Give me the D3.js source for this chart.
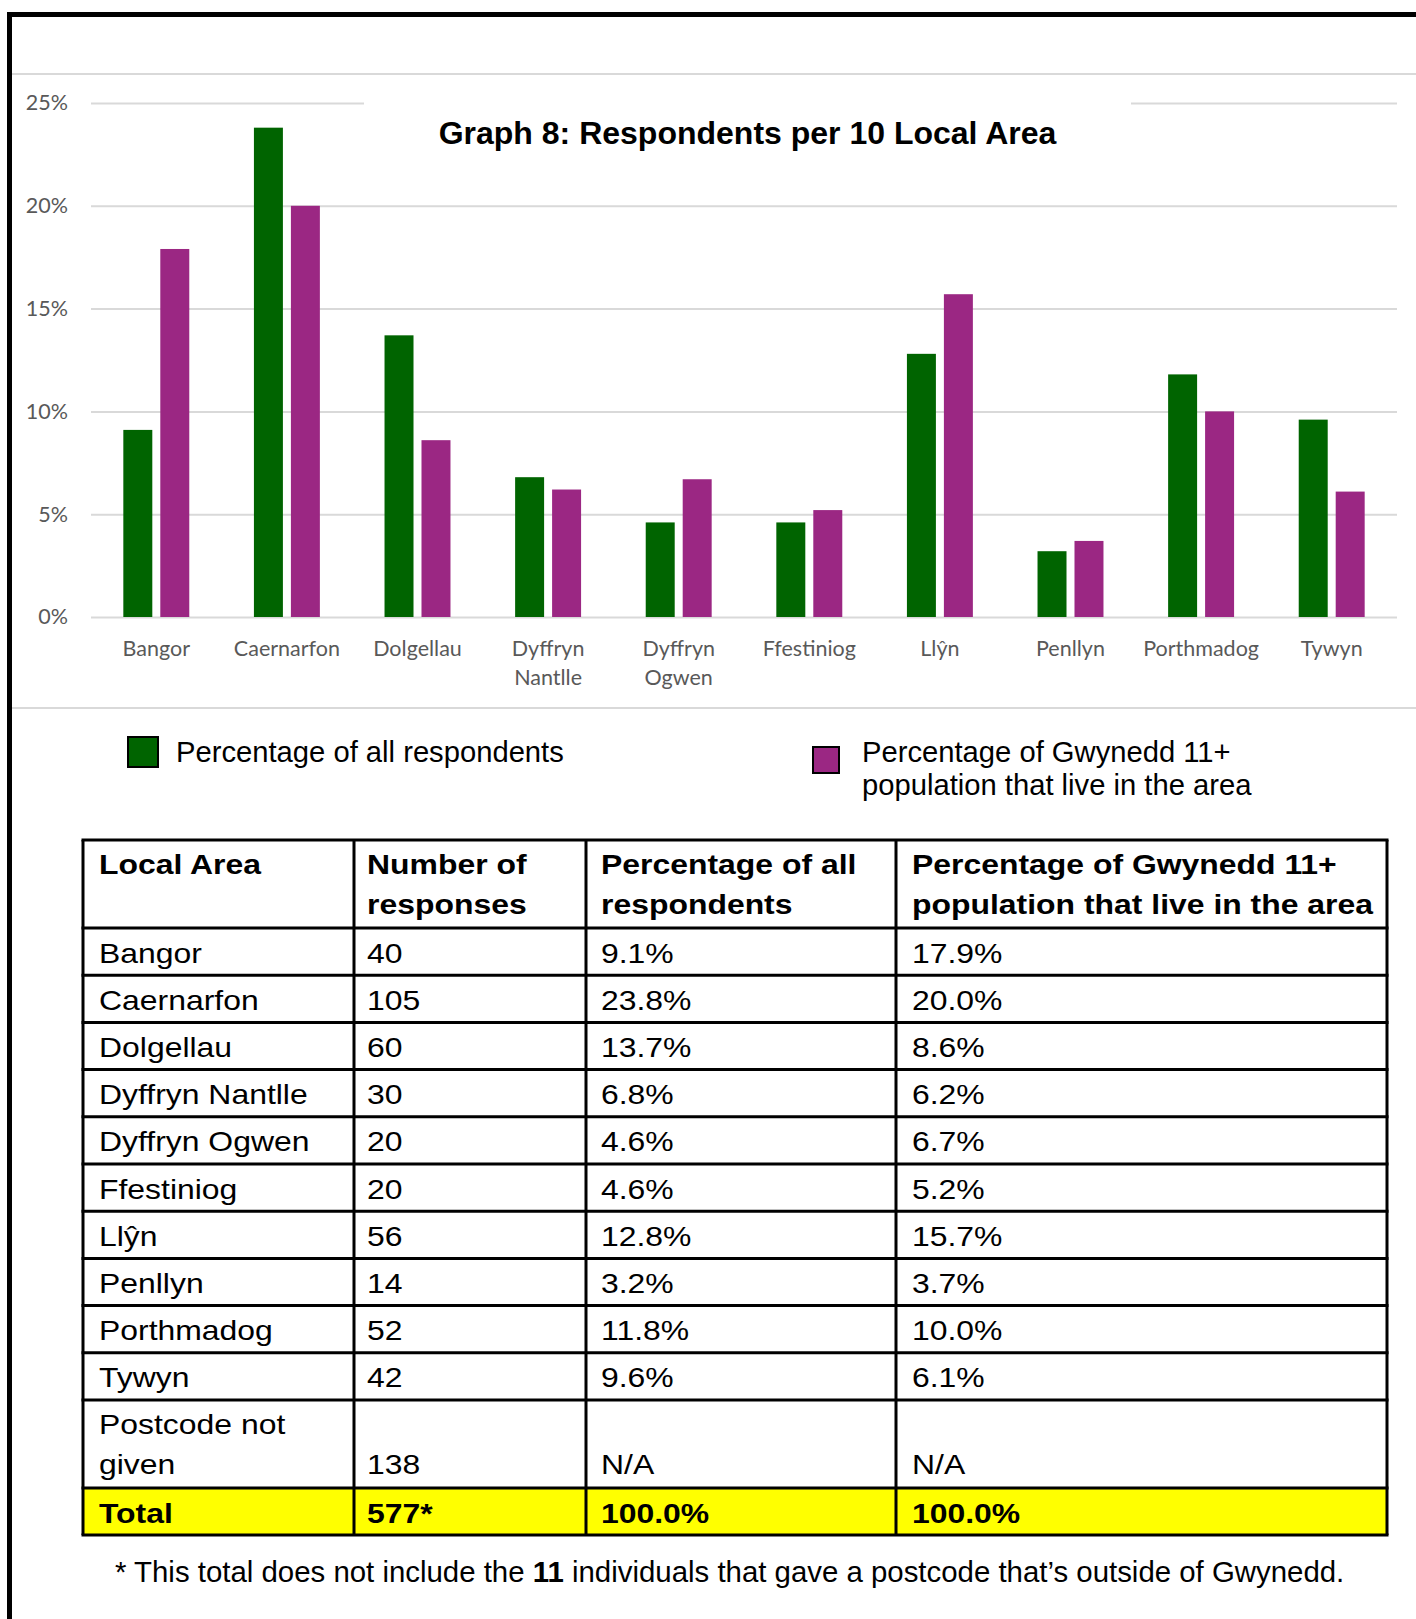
<!DOCTYPE html>
<html><head><meta charset="utf-8">
<script src="https://cdn.jsdelivr.net/npm/d3@7"></script>
<style>body{margin:0;background:#fff} svg{display:block}</style>
</head><body><svg id="c" width="1416" height="1619"></svg>
<script>
// ---------- DATA ----------
const categories = ["Bangor","Caernarfon","Dolgellau","Dyffryn Nantlle","Dyffryn Ogwen","Ffestiniog","Llŷn","Penllyn","Porthmadog","Tywyn"];
const categoryLabelLines = [["Bangor"],["Caernarfon"],["Dolgellau"],["Dyffryn","Nantlle"],["Dyffryn","Ogwen"],["Ffestiniog"],["Llŷn"],["Penllyn"],["Porthmadog"],["Tywyn"]];
const seriesKeys = ["respondents","population"];
const seriesLegend = [["Percentage of all respondents"],["Percentage of Gwynedd 11+","population that live in the area"]];
const pctRespondents = [9.1,23.8,13.7,6.8,4.6,4.6,12.8,3.2,11.8,9.6];
const pctPopulation = [17.9,20.0,8.6,6.2,6.7,5.2,15.7,3.7,10.0,6.1];
const responses = [40,105,60,30,20,20,56,14,52,42];
const yTicks = [0,5,10,15,20,25];
const chartTitle = "Graph 8: Respondents per 10 Local Area";
const tableHeader = [["Local Area"],["Number of","responses"],["Percentage of all","respondents"],["Percentage of Gwynedd 11+","population that live in the area"]];
const notGivenRow = [["Postcode not","given"],["","138"],["","N/A"],["","N/A"]];
const totalRow = ["Total","577*","100.0%","100.0%"];
const footnoteParts = [["* This total does not include the ",false],["11",true],[" individuals that gave a postcode that’s outside of Gwynedd.",false]];

// ---------- STYLE ----------
const GREEN = "#006400", PURPLE = "#9B2783", GRID = "#d9d9d9", AXISTXT = "#595959";
const svg = d3.select("#c");

// frame
svg.append("path").attr("d","M9.5,1619 V14.5 H1416").attr("fill","none").attr("stroke","#000").attr("stroke-width",5);
svg.append("line").attr("x1",12).attr("x2",1416).attr("y1",74).attr("y2",74).attr("stroke",GRID).attr("stroke-width",2);
svg.append("line").attr("x1",12).attr("x2",1416).attr("y1",708).attr("y2",708).attr("stroke",GRID).attr("stroke-width",2);

// scales
const plotL = 91, plotR = 1397;
const y = d3.scaleLinear().domain([0,25]).range([617,103]);
const x0 = d3.scaleBand().domain(categories).range([plotL,plotR]).paddingInner(0.495).paddingOuter(0.2475);
const x1 = d3.scaleBand().domain(seriesKeys).range([0,x0.bandwidth()]).paddingInner(0.2162);
const color = d3.scaleOrdinal().domain(seriesKeys).range([GREEN,PURPLE]);

// y axis + gridlines
const yAxis = d3.axisLeft(y).tickValues(yTicks).tickSize(-(plotR-plotL)).tickPadding(23).tickFormat(d=>d+"%");
const gy = svg.append("g").attr("transform",`translate(${plotL},0)`).call(yAxis);
gy.select(".domain").remove();
gy.selectAll(".tick line").attr("stroke",GRID).attr("stroke-width",2);
gy.selectAll(".tick text").attr("fill",AXISTXT).attr("font-family","Lato, 'Open Sans', sans-serif").attr("font-size",21.5);

// bars
const data = categories.map((c,i)=>({cat:c, values:[{k:"respondents",v:pctRespondents[i]},{k:"population",v:pctPopulation[i]}]}));
const groups = svg.append("g").selectAll("g").data(data).join("g").attr("transform",d=>`translate(${x0(d.cat)},0)`);
groups.selectAll("rect").data(d=>d.values).join("rect")
  .attr("x",d=>x1(d.k)).attr("width",x1.bandwidth())
  .attr("y",d=>y(d.v)).attr("height",d=>y(0)-y(d.v))
  .attr("fill",d=>color(d.k));

// x labels
const xl = svg.append("g").attr("font-family","Lato, 'Open Sans', sans-serif").attr("font-size",21.5).attr("fill",AXISTXT).attr("text-anchor","middle");
categories.forEach((c,i)=>{
  const t = xl.append("text").attr("x",x0(c)+x0.bandwidth()/2).attr("y",656);
  categoryLabelLines[i].forEach((ln,j)=>t.append("tspan").attr("x",x0(c)+x0.bandwidth()/2).attr("y",656+29*j).text(ln));
});

// title with white background
svg.append("rect").attr("x",364).attr("y",88).attr("width",767).attr("height",70).attr("fill","#fff");
svg.append("text").attr("x",747.5).attr("y",144).attr("text-anchor","middle")
  .attr("font-family","'Liberation Sans', Arial, sans-serif").attr("font-weight","bold").attr("font-size",32).attr("fill","#000").text(chartTitle);

// legend
const lg = svg.append("g").attr("font-family","'Liberation Sans', Arial, sans-serif").attr("font-size",29.2).attr("fill","#000");
const legendPos = [{sx:128,sy:737,sw:30,sh:30,tx:176},{sx:813,sy:747,sw:26,sh:26,tx:862}];
seriesKeys.forEach((k,i)=>{
  const p = legendPos[i];
  lg.append("rect").attr("x",p.sx).attr("y",p.sy).attr("width",p.sw).attr("height",p.sh).attr("fill",color(k)).attr("stroke","#000").attr("stroke-width",2);
  seriesLegend[i].forEach((ln,j)=>lg.append("text").attr("x",p.tx).attr("y",762+33*j).text(ln));
});

// ---------- TABLE ----------
const colX = [83,354,586,896,1387];
const pad = [16,13,15,16];
const rows = [];
rows.push({cells:tableHeader, h:88, bold:true, multi:true});
categories.forEach((c,i)=>rows.push({cells:[[c],[String(responses[i])],[pctRespondents[i].toFixed(1)+"%"],[pctPopulation[i].toFixed(1)+"%"]], h:47.2}));
rows.push({cells:notGivenRow, h:88, multi:true});
rows.push({cells:totalRow.map(s=>[s]), h:47, bold:true, fill:"#ffff00"});
let yy = 840;
rows.forEach(r=>{r.top=yy; yy+=r.h;});
const tableBottom = yy;
const tg = svg.append("g");
rows.forEach(r=>{
  if(r.fill) tg.append("rect").attr("x",colX[0]).attr("y",r.top).attr("width",colX[4]-colX[0]).attr("height",r.h).attr("fill",r.fill);
});
const tt = svg.append("g").attr("font-family","'Liberation Sans', Arial, sans-serif").attr("font-size",28.5).attr("fill","#000");
rows.forEach(r=>{
  r.cells.forEach((lines,ci)=>{
    lines.forEach((ln,j)=>{
      if(!ln) return;
      const by = r.multi ? r.top + 34 + 40*j : r.top + 34.5;
      tt.append("text").attr("transform",`translate(${colX[ci]+pad[ci]},${by}) scale(1.12,1)`)
        .attr("font-weight",r.bold?"bold":"normal").text(ln);
    });
  });
});
const lineG = svg.append("g").attr("stroke","#000").attr("stroke-width",3);
rows.forEach(r=>lineG.append("line").attr("x1",colX[0]-1.5).attr("x2",colX[4]+1.5).attr("y1",r.top).attr("y2",r.top));
lineG.append("line").attr("x1",colX[0]-1.5).attr("x2",colX[4]+1.5).attr("y1",tableBottom).attr("y2",tableBottom);
colX.forEach(cx=>lineG.append("line").attr("x1",cx).attr("x2",cx).attr("y1",840).attr("y2",tableBottom));

// footnote
const fn = svg.append("text").attr("x",115).attr("y",1582).attr("font-family","'Liberation Sans', Arial, sans-serif").attr("font-size",29.4).attr("fill","#000");
footnoteParts.forEach(([t,b])=>fn.append("tspan").attr("font-weight",b?"bold":"normal").text(t));
</script>
</body></html>
